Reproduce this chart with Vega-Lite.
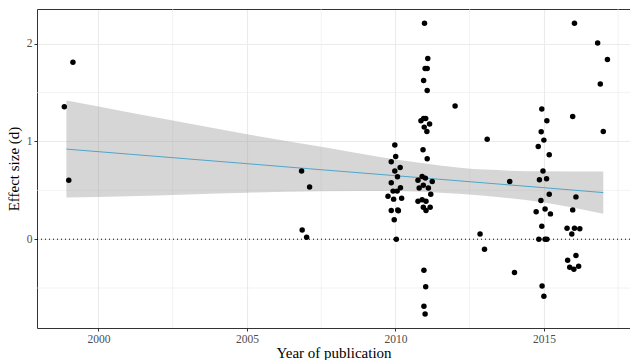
{
  "$schema": "https://vega.github.io/schema/vega-lite/v6.json",
  "width": 593,
  "height": 319,
  "autosize": "none",
  "padding": {"left": 37, "top": 9, "right": 0, "bottom": 32},
  "background": "white",
  "config": {
    "view": {"stroke": null},
    "axis": {
      "labelFont": "Liberation Serif",
      "titleFont": "Liberation Serif",
      "labelColor": "#4D4D4D",
      "labelFontSize": 11.5,
      "titleFontSize": 15,
      "titleFontWeight": "normal",
      "titleColor": "#000000",
      "tickColor": "#333333",
      "tickSize": 3,
      "tickWidth": 1,
      "domainColor": "#333333",
      "domainWidth": 1,
      "gridColor": "#EBEBEB",
      "gridWidth": 1.1,
      "labelPadding": 2
    }
  },
  "datasets": {
    "minorx": [{"year": 2002.5}, {"year": 2007.5}, {"year": 2012.5}, {"year": 2017.5}],
    "minory": [{"d": -0.5}, {"d": 0.5}, {"d": 1.5}],
    "ref": [{"d": 0}],
    "fit": [
      {"year": 1998.92, "fit": 0.922, "lower": 0.426, "upper": 1.42},
      {"year": 2001, "fit": 0.871, "lower": 0.44, "upper": 1.3},
      {"year": 2003, "fit": 0.822, "lower": 0.458, "upper": 1.186},
      {"year": 2005, "fit": 0.773, "lower": 0.475, "upper": 1.074},
      {"year": 2007.5, "fit": 0.711, "lower": 0.49, "upper": 0.945},
      {"year": 2010, "fit": 0.65, "lower": 0.492, "upper": 0.815},
      {"year": 2011.5, "fit": 0.613, "lower": 0.475, "upper": 0.755},
      {"year": 2013, "fit": 0.576, "lower": 0.445, "upper": 0.712},
      {"year": 2015, "fit": 0.527, "lower": 0.375, "upper": 0.695},
      {"year": 2017.0, "fit": 0.477, "lower": 0.26, "upper": 0.693}
    ],
    "studies": [
      {"year": 1999.14, "d": 1.81}, {"year": 1998.85, "d": 1.356}, {"year": 1999.0, "d": 0.604},
      {"year": 2006.84, "d": 0.697}, {"year": 2007.11, "d": 0.533}, {"year": 2006.86, "d": 0.095}, {"year": 2007.01, "d": 0.02},
      {"year": 2009.98, "d": 0.963}, {"year": 2010.01, "d": 0.846}, {"year": 2009.86, "d": 0.792}, {"year": 2010.16, "d": 0.734},
      {"year": 2009.98, "d": 0.697}, {"year": 2010.07, "d": 0.638}, {"year": 2009.86, "d": 0.577}, {"year": 2010.17, "d": 0.526},
      {"year": 2009.92, "d": 0.492}, {"year": 2010.06, "d": 0.492}, {"year": 2009.75, "d": 0.44}, {"year": 2010.21, "d": 0.42},
      {"year": 2009.94, "d": 0.41}, {"year": 2009.86, "d": 0.293}, {"year": 2010.08, "d": 0.3}, {"year": 2010.1, "d": 0.29},
      {"year": 2009.96, "d": 0.198}, {"year": 2010.03, "d": 0.0},
      {"year": 2010.98, "d": 2.209}, {"year": 2011.09, "d": 1.85}, {"year": 2011.0, "d": 1.748}, {"year": 2011.07, "d": 1.748},
      {"year": 2010.95, "d": 1.625}, {"year": 2011.07, "d": 1.523}, {"year": 2010.86, "d": 1.212}, {"year": 2010.95, "d": 1.236},
      {"year": 2011.02, "d": 1.236}, {"year": 2011.15, "d": 1.178}, {"year": 2010.97, "d": 1.147}, {"year": 2011.06, "d": 1.103},
      {"year": 2010.93, "d": 0.915}, {"year": 2011.07, "d": 0.823}, {"year": 2010.9, "d": 0.641}, {"year": 2011.01, "d": 0.625},
      {"year": 2010.76, "d": 0.604}, {"year": 2011.24, "d": 0.59}, {"year": 2010.8, "d": 0.523}, {"year": 2010.94, "d": 0.553},
      {"year": 2011.11, "d": 0.523}, {"year": 2011.19, "d": 0.461}, {"year": 2010.76, "d": 0.389}, {"year": 2010.9, "d": 0.403},
      {"year": 2011.03, "d": 0.389}, {"year": 2010.94, "d": 0.328}, {"year": 2011.17, "d": 0.328}, {"year": 2011.03, "d": 0.293},
      {"year": 2010.96, "d": -0.318}, {"year": 2011.02, "d": -0.486}, {"year": 2010.96, "d": -0.686}, {"year": 2011.0, "d": -0.765},
      {"year": 2012.01, "d": 1.363}, {"year": 2013.09, "d": 1.024}, {"year": 2012.85, "d": 0.054}, {"year": 2013.0, "d": -0.102},
      {"year": 2013.85, "d": 0.59}, {"year": 2014.01, "d": -0.342},
      {"year": 2014.93, "d": 1.332}, {"year": 2015.1, "d": 1.212}, {"year": 2014.91, "d": 1.099}, {"year": 2015.0, "d": 1.014},
      {"year": 2014.81, "d": 0.949}, {"year": 2015.18, "d": 0.864}, {"year": 2014.97, "d": 0.697}, {"year": 2014.85, "d": 0.608},
      {"year": 2015.09, "d": 0.618}, {"year": 2015.18, "d": 0.461}, {"year": 2014.9, "d": 0.396}, {"year": 2015.04, "d": 0.31},
      {"year": 2014.74, "d": 0.28}, {"year": 2015.22, "d": 0.259}, {"year": 2014.93, "d": 0.133}, {"year": 2014.83, "d": 0.0},
      {"year": 2015.04, "d": 0.0}, {"year": 2015.1, "d": 0.0}, {"year": 2014.94, "d": -0.478}, {"year": 2015.0, "d": -0.584},
      {"year": 2016.03, "d": 2.209}, {"year": 2015.97, "d": 1.256}, {"year": 2016.08, "d": 0.433}, {"year": 2015.97, "d": 0.3},
      {"year": 2015.78, "d": 0.113}, {"year": 2016.03, "d": 0.113}, {"year": 2016.21, "d": 0.106}, {"year": 2015.94, "d": 0.054},
      {"year": 2015.8, "d": -0.215}, {"year": 2016.08, "d": -0.168}, {"year": 2015.87, "d": -0.287}, {"year": 2016.01, "d": -0.307},
      {"year": 2016.17, "d": -0.277},
      {"year": 2016.81, "d": 2.008}, {"year": 2017.14, "d": 1.84}, {"year": 2016.9, "d": 1.588}, {"year": 2017.0, "d": 1.103}
    ]
  },
  "layer": [
    {
      "data": {"name": "minorx"},
      "mark": {"type": "rule", "color": "#EBEBEB", "strokeWidth": 0.6},
      "encoding": {
        "x": {"field": "year", "type": "quantitative", "scale": {"domain": [1997.93, 2017.9], "nice": false, "zero": false}, "axis": null}
      }
    },
    {
      "data": {"name": "minory"},
      "mark": {"type": "rule", "color": "#EBEBEB", "strokeWidth": 0.6},
      "encoding": {
        "y": {"field": "d", "type": "quantitative", "scale": {"domain": [-0.909, 2.356], "nice": false, "zero": false}, "axis": null}
      }
    },
    {
      "data": {"name": "fit"},
      "mark": {"type": "area", "color": "#999999", "opacity": 0.4, "interpolate": "monotone"},
      "encoding": {
        "x": {"field": "year", "type": "quantitative", "scale": {"domain": [1997.93, 2017.9], "nice": false, "zero": false},
              "axis": {"orient": "top", "labels": false, "ticks": false, "grid": false, "title": null, "domain": true}},
        "y": {"field": "lower", "type": "quantitative", "axis": null},
        "y2": {"field": "upper"}
      }
    },
    {
      "data": {"name": "fit"},
      "mark": {"type": "line", "color": "#4FA6C9", "strokeWidth": 1},
      "encoding": {
        "x": {"field": "year", "type": "quantitative", "axis": null},
        "y": {"field": "fit", "type": "quantitative", "axis": null}
      }
    },
    {
      "data": {"name": "ref"},
      "mark": {"type": "rule", "color": "#000000", "strokeWidth": 1, "strokeDash": [1, 3]},
      "encoding": {
        "y": {"field": "d", "type": "quantitative", "axis": null}
      }
    },
    {
      "data": {"name": "studies"},
      "mark": {"type": "circle", "color": "#000000", "opacity": 1, "size": 30},
      "encoding": {
        "x": {"field": "year", "type": "quantitative",
              "axis": {"values": [2000, 2005, 2010, 2015], "format": "d", "title": "Year of publication", "titlePadding": 1, "grid": true}},
        "y": {"field": "d", "type": "quantitative",
              "axis": {"values": [0, 1, 2], "format": "d", "title": "Effect size (d)", "titlePadding": 5, "grid": true}}
      }
    }
  ],
  "resolve": {"axis": {"x": "independent", "y": "independent"}}
}
